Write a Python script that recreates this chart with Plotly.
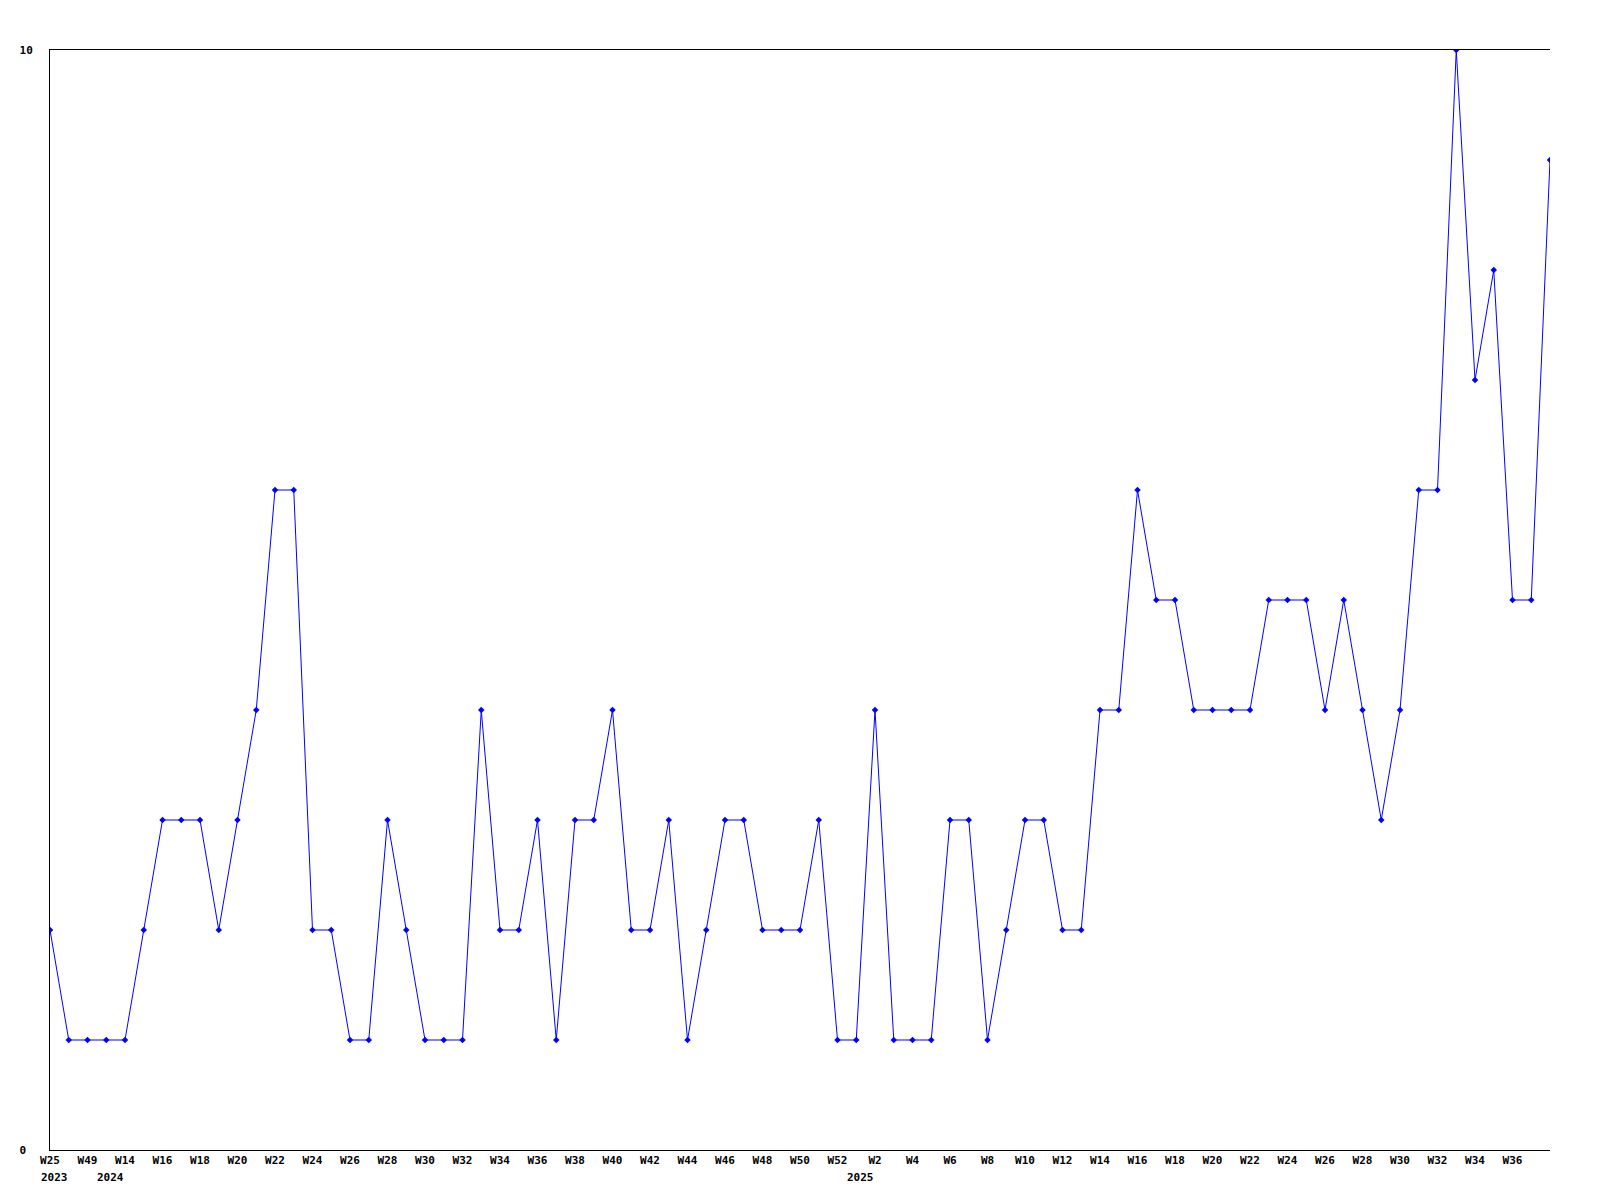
import plotly.graph_objects as go

# weekly counts, one point per week that had data
weeks = ["W25", "W40", "W49", "W11", "W14", "W15", "W16", "W17", "W18", "W19",
         "W20", "W21", "W22", "W23", "W24", "W25", "W26", "W27", "W28", "W29",
         "W30", "W31", "W32", "W33", "W34", "W35", "W36", "W37", "W38", "W39",
         "W40", "W41", "W42", "W43", "W44", "W45", "W46", "W47", "W48", "W49",
         "W50", "W51", "W52", "W1", "W2", "W3", "W4", "W5", "W6", "W7",
         "W8", "W9", "W10", "W11", "W12", "W13", "W14", "W15", "W16", "W17",
         "W18", "W19", "W20", "W21", "W22", "W23", "W24", "W25", "W26", "W27",
         "W28", "W29", "W30", "W31", "W32", "W33", "W34", "W35", "W36", "W37",
         "W38"]
counts = [2, 1, 1, 1, 1, 2, 3, 3, 3, 2,
          3, 4, 6, 6, 2, 2, 1, 1, 3, 2,
          1, 1, 1, 4, 2, 2, 3, 1, 3, 3,
          4, 2, 2, 3, 1, 2, 3, 3, 2, 2,
          2, 3, 1, 1, 4, 1, 1, 1, 3, 3,
          1, 2, 3, 3, 2, 2, 4, 4, 6, 5,
          5, 4, 4, 4, 4, 5, 5, 5, 4, 5,
          4, 3, 4, 6, 6, 10, 7, 8, 5, 5,
          9]
# first point of each year
year_starts = [0, 3, 43]
year_labels = ["2023", "2024", "2025"]

x = list(range(len(counts)))
# every other week is labelled; the last point has no label
tick_idx = x[:-1:2]
FONT = dict(family="DejaVu Sans Mono", size=11, color="black", weight="bold")

fig = go.Figure()
fig.add_trace(go.Scatter(x=x, y=counts, mode="lines+markers",
                         line=dict(color="#0000ff", width=1),
                         marker=dict(symbol="diamond", size=5, color="#0000ff"),
                         showlegend=False, hoverinfo="skip"))

for i, lab in zip(year_starts, year_labels):
    fig.add_annotation(x=i, y=0, xref="x", yref="paper", text=lab, showarrow=False,
                       xanchor="left", yanchor="top", xshift=-11, yshift=-19,
                       font=FONT)

fig.update_layout(
    width=1584, height=1184,
    margin=dict(l=42, r=42, t=42, b=42),
    paper_bgcolor="white", plot_bgcolor="white",
    font=FONT,
    xaxis=dict(range=[0, len(counts) - 1], showgrid=False, zeroline=False,
               showline=True, linecolor="black", linewidth=1, mirror=True,
               tickmode="array", tickvals=tick_idx, ticktext=[weeks[i] for i in tick_idx],
               ticks="", tickfont=FONT),
    yaxis=dict(range=[0, 10], showgrid=False, zeroline=False,
               showline=True, linecolor="black", linewidth=1,
               tickmode="array", tickvals=[0, 10], ticktext=["0\u00a0", "10"],
               ticks="", ticklabelstandoff=14, tickfont=FONT),
)

fig.write_html("out.html")
